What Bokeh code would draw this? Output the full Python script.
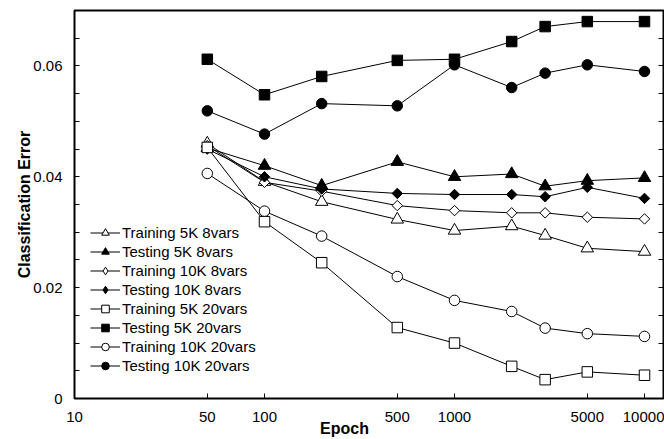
import numpy as np
from bokeh.plotting import figure
from bokeh.models import Range1d, FixedTicker, LinearAxis, Legend, LegendItem, ColumnDataSource
from bokeh.embed import file_html
from bokeh.resources import INLINE

epochs = [50, 100, 200, 500, 1000, 2000, 3000, 5000, 10000]
train_5k_8 = [0.0460, 0.0391, 0.0355, 0.0323, 0.0303, 0.0311, 0.0294, 0.0271, 0.0265]
test_5k_8 = [0.0452, 0.0420, 0.0384, 0.0427, 0.0400, 0.0405, 0.0383, 0.0393, 0.0398]
train_10k_8 = [0.0456, 0.0390, 0.0374, 0.0348, 0.0339, 0.0335, 0.0335, 0.0327, 0.0324]
test_10k_8 = [0.0450, 0.0400, 0.0378, 0.0370, 0.0368, 0.0368, 0.0364, 0.0381, 0.0361]
train_5k_20 = [0.0453, 0.0319, 0.0245, 0.0128, 0.0100, 0.0058, 0.0034, 0.0048, 0.0042]
test_5k_20 = [0.0612, 0.0548, 0.0581, 0.0610, 0.0612, 0.0644, 0.0671, 0.0680, 0.0680]
train_10k_20 = [0.0406, 0.0338, 0.0293, 0.0220, 0.0177, 0.0157, 0.0127, 0.0117, 0.0112]
test_10k_20 = [0.0519, 0.0477, 0.0532, 0.0528, 0.0602, 0.0561, 0.0587, 0.0602, 0.0590]

series_names = ["Training 5K 8vars", "Testing 5K 8vars", "Training 10K 8vars", "Testing 10K 8vars",
                "Training 5K 20vars", "Testing 5K 20vars", "Training 10K 20vars", "Testing 10K 20vars"]
series_values = [train_5k_8, test_5k_8, train_10k_8, test_10k_8,
                 train_5k_20, test_5k_20, train_10k_20, test_10k_20]

x_ticks = [10, 50, 100, 500, 1000, 5000, 10000]
x_tick_labels = ["10", "50", "100", "500", "1000", "5000", "10000"]
y_ticks = [0, 0.02, 0.04, 0.06]
y_tick_labels = ["0", "0.02", "0.04", "0.06"]
y_minor = [0.005, 0.01, 0.015, 0.025, 0.03, 0.035, 0.045, 0.05, 0.055, 0.065]

# marker styles: (marker, filled, size, angle, legend marker)
styles = [("triangle", False, 12.5, 0, "triangle"), ("triangle", True, 12.5, 0, "triangle"),
          ("square", False, 7.4, np.pi / 4, "diamond"), ("square", True, 7.4, np.pi / 4, "diamond"),
          ("square", False, 10.5, 0, "square"), ("square", True, 10.5, 0, "square"),
          ("circle", False, 10.5, 0, "circle"), ("circle", True, 10.5, 0, "circle")]

FONT = "Liberation Sans"

p = figure(width=664, height=439, x_axis_type="log", output_backend="svg", toolbar_location=None,
           x_range=Range1d(10, 12589), y_range=Range1d(0, 0.07),
           min_border_left=74, min_border_right=1, min_border_top=10, min_border_bottom=41)
p.background_fill_color = "white"
p.border_fill_color = "white"
p.outline_line_color = "black"
p.outline_line_width = 2
p.xgrid.visible = False
p.ygrid.visible = False

xa = p.xaxis[0]
xa.ticker = FixedTicker(ticks=x_ticks, minor_ticks=[])
xa.major_label_overrides = {t: l for t, l in zip(x_ticks, x_tick_labels)}
xa.major_tick_in = 5
xa.major_tick_out = 0
xa.minor_tick_in = 0
xa.minor_tick_out = 0
xa.major_tick_line_color = "black"
xa.axis_line_color = None
xa.major_label_standoff = 13
xa.major_label_text_font = FONT
xa.major_label_text_font_size = "15px"
xa.major_label_text_color = "black"
xa.axis_label = "Epoch" + "\u00a0" * 11
xa.axis_label_text_font = FONT
xa.axis_label_text_font_size = "16px"
xa.axis_label_text_font_style = "bold"
xa.axis_label_text_color = "black"
xa.axis_label_standoff = -5

ya = p.yaxis[0]
ya.ticker = FixedTicker(ticks=y_ticks, minor_ticks=y_minor)
ya.major_label_overrides = {t: l for t, l in zip(y_ticks, y_tick_labels)}
ya.major_tick_in = 5
ya.major_tick_out = 0
ya.minor_tick_in = 5
ya.minor_tick_out = 0
ya.axis_line_color = None
ya.major_label_standoff = 12
ya.major_label_text_font = FONT
ya.major_label_text_font_size = "15px"
ya.major_label_text_color = "black"
ya.axis_label = "Classification Error"
ya.axis_label_text_font = FONT
ya.axis_label_text_font_size = "16px"
ya.axis_label_text_font_style = "bold"
ya.axis_label_text_color = "black"
ya.axis_label_standoff = -3

ra = LinearAxis(ticker=FixedTicker(ticks=y_ticks, minor_ticks=y_minor))
ra.major_label_overrides = {t: "" for t in y_ticks}
ra.major_tick_in = 5
ra.major_tick_out = 0
ra.minor_tick_in = 5
ra.minor_tick_out = 0
ra.axis_line_color = None
ra.major_label_standoff = 0
p.add_layout(ra, "right")

# legend-only stub (not shown in the plot: its single point is NaN)
stub = ColumnDataSource(dict(x=[np.nan], y=[np.nan]))
items = []
for name, vals, (mk, filled, sz, ang, lmk) in zip(series_names, series_values, styles):
    src = ColumnDataSource(dict(x=epochs, y=vals))
    fill = "black" if filled else "white"
    lr = p.line("x", "y", source=src, line_color="black", line_width=1)
    sr = p.scatter("x", "y", source=src, marker=mk, size=sz, angle=ang,
                   line_color="black", line_width=1, fill_color=fill)
    if lmk != mk:
        sr = p.scatter("x", "y", source=stub, marker=lmk, size=sz,
                       line_color="black", line_width=1, fill_color=fill)
    items.append(LegendItem(label=name, renderers=[lr, sr]))

legend = Legend(items=items, location=(16, 23), glyph_width=30, glyph_height=19,
                label_height=15, spacing=0, padding=0, margin=0, label_standoff=2,
                border_line_color=None, background_fill_alpha=0,
                label_text_font=FONT, label_text_font_size="15px", label_text_color="black")
p.add_layout(legend, "center")

open("out.html", "w").write(file_html(p, INLINE))
